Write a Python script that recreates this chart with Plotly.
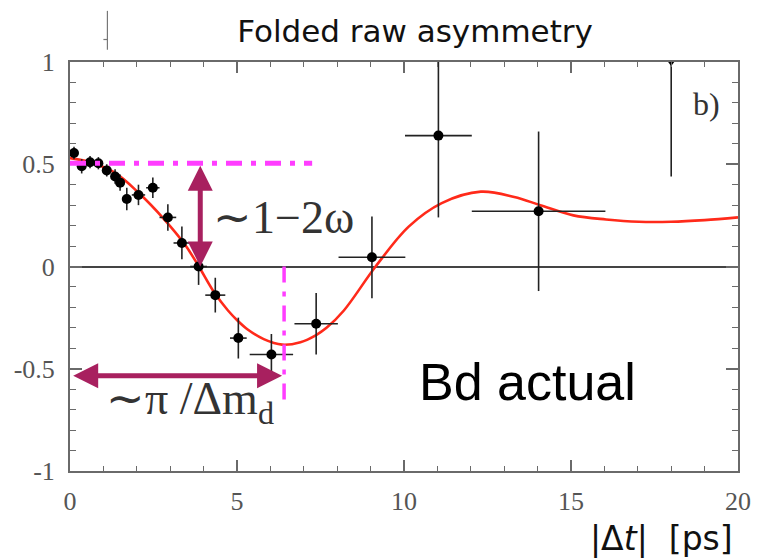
import plotly.graph_objects as go

# ---- data ----
pt_x = [0.12, 0.35, 0.6, 0.85, 1.1, 1.35, 1.5, 1.7, 2.05, 2.48, 2.93, 3.35, 3.85,
        4.35, 5.04, 6.03, 7.37, 9.04, 11.03, 14.03, 18.0]
pt_y = [0.555, 0.49, 0.51, 0.505, 0.47, 0.44, 0.41, 0.33, 0.35, 0.385, 0.24, 0.115, 0.0,
        -0.14, -0.35, -0.43, -0.28, 0.045, 0.64, 0.27, 1.3]
pt_ey = [0.03, 0.035, 0.03, 0.03, 0.03, 0.035, 0.04, 0.055, 0.05, 0.05, 0.065, 0.08, 0.09,
         0.085, 0.1, 0.1, 0.15, 0.2, 0.4, 0.39, 0.86]
pt_ex = [0.12, 0.12, 0.12, 0.12, 0.12, 0.12, 0.12, 0.12, 0.2, 0.2, 0.25, 0.25, 0.25,
         0.3, 0.25, 0.65, 0.65, 1.0, 1.0, 2.0, 2.0]

overflow_x = [18.0]
overflow_y = [1.0]

fit_x = [0.0, 0.6, 1.33, 2.07, 2.84, 3.45, 3.84, 4.33, 4.73, 5.02, 5.32, 5.8, 6.35, 6.9,
         7.37, 7.68, 8.2, 9.15, 10.14, 11.13, 12.3, 13.3, 14.08, 15.07, 16.05, 17.03,
         18.0, 19.0, 20.0]
fit_y = [0.53, 0.51, 0.46, 0.358, 0.227, 0.105, 0.005, -0.13, -0.215, -0.265, -0.308, -0.355,
         -0.382, -0.37, -0.335, -0.3, -0.215, 0.0, 0.195, 0.31, 0.366, 0.34, 0.30, 0.25,
         0.23, 0.219, 0.219, 0.227, 0.24]

x_ticks = [0, 5, 10, 15, 20]
x_ticklabels = ["0", "5", "10", "15", "20"]
y_ticks = [-1, -0.5, 0, 0.5, 1]
y_ticklabels = ["-1", "-0.5", "0", "0.5", "1"]

# guide lines / arrows (annotation geometry)
hguide = dict(x0=0.0, x1=7.25, y=0.505)
vguide = dict(x=6.41, y0=0.0, y1=-0.69)
varrow = dict(x=3.9, y0=0.5, y1=0.0)
harrow = dict(y=-0.534, x0=0.05, x1=6.35)

MAGENTA = "#FF3DFF"
ARROW = "#A8205F"
AXC = "#6a6a6a"
SERIF = "Liberation Serif, Times New Roman, serif"

fig = go.Figure()

fig.add_trace(go.Scatter(
    x=fit_x, y=fit_y, mode="lines",
    line=dict(color="#FF2A1A", width=2.6, shape="spline", smoothing=1.0),
    showlegend=False, hoverinfo="skip"))

fig.add_trace(go.Scatter(
    x=pt_x, y=pt_y, mode="markers",
    marker=dict(color="black", size=10, symbol="circle"),
    error_y=dict(type="data", array=pt_ey, color="#222", thickness=1.6, width=0),
    error_x=dict(type="data", array=pt_ex, color="#222", thickness=1.6, width=0),
    showlegend=False))

fig.add_trace(go.Scatter(
    x=overflow_x, y=overflow_y, mode="markers",
    marker=dict(color="black", size=8, symbol="triangle-down"),
    cliponaxis=False, showlegend=False))

dash = "16px,9px,5px,9px"
shapes = [
    dict(type="line", xref="x", yref="y", x0=hguide["x0"], x1=hguide["x1"],
         y0=hguide["y"], y1=hguide["y"], line=dict(color=MAGENTA, width=5, dash=dash)),
    dict(type="line", xref="x", yref="y", x0=vguide["x"], x1=vguide["x"],
         y0=vguide["y0"], y1=vguide["y1"], line=dict(color=MAGENTA, width=3.5, dash=dash)),
    # small stray mark at top-left of the original image
    dict(type="line", xref="paper", yref="paper", x0=0.056, x1=0.056, y0=1.03, y1=1.125,
         line=dict(color="#777", width=1.2)),
    dict(type="line", xref="paper", yref="paper", x0=0.050, x1=0.056, y0=1.055, y1=1.055,
         line=dict(color="#777", width=1.2)),
]

annotations = [
    dict(x=varrow["x"], y=varrow["y1"], ax=varrow["x"], ay=varrow["y0"], axref="x", ayref="y",
         xref="x", yref="y", text="", showarrow=True, arrowhead=2, arrowside="end+start",
         arrowwidth=5, arrowsize=1.0, arrowcolor=ARROW, standoff=0, startstandoff=0),
    dict(x=harrow["x1"], y=harrow["y"], ax=harrow["x0"], ay=harrow["y"], axref="x", ayref="y",
         xref="x", yref="y", text="", showarrow=True, arrowhead=2, arrowside="end+start",
         arrowwidth=5, arrowsize=1.0, arrowcolor=ARROW, standoff=0, startstandoff=0),
    dict(x=6.4, y=0.24, xref="x", yref="y", text="∼1−2ω", showarrow=False,
         font=dict(family=SERIF, size=46, color="#333")),
    dict(x=3.6, y=-0.665, xref="x", yref="y", text="∼π /Δm<sub>d</sub>", showarrow=False,
         font=dict(family=SERIF, size=46, color="#333")),
    dict(x=13.7, y=-0.565, xref="x", yref="y", text="Bd actual", showarrow=False,
         font=dict(family="Liberation Sans", size=52, color="black")),
    dict(x=19.05, y=0.795, xref="x", yref="y", text="b)", showarrow=False,
         font=dict(family=SERIF, size=32, color="#333")),
    dict(x=0.996, y=-0.164, xref="paper", yref="paper", xanchor="right", yanchor="middle",
         text="|Δ<i>t</i>|  [ps]", showarrow=False,
         font=dict(family="DejaVu Sans", size=33, color="#111")),
]

tickfont = dict(family=SERIF, size=26, color="#555")

fig.update_layout(
    width=763, height=560,
    margin=dict(l=70, r=16, t=62, b=89),
    paper_bgcolor="white", plot_bgcolor="white",
    title=dict(text="Folded raw asymmetry", x=0.544, y=0.945, xanchor="center", yanchor="middle",
               font=dict(family="DejaVu Sans", size=31, color="#111")),
    shapes=shapes, annotations=annotations,
    xaxis=dict(range=[0, 20], tickmode="array", tickvals=x_ticks, ticktext=x_ticklabels,
               ticks="inside", ticklen=11, tickwidth=1.5, tickcolor=AXC, showline=True,
               linecolor=AXC, linewidth=2, mirror="allticks", showgrid=False, zeroline=False,
               ticklabelstandoff=6, tickfont=tickfont,
               minor=dict(dtick=1, ticks="inside", ticklen=5, tickwidth=1.3, tickcolor=AXC,
                          showgrid=False)),
    yaxis=dict(range=[-1, 1], tickmode="array", tickvals=y_ticks, ticktext=y_ticklabels,
               ticks="inside", ticklen=12, tickwidth=1.5, tickcolor=AXC, showline=True,
               linecolor=AXC, linewidth=2, mirror="allticks", showgrid=False, zeroline=True,
               zerolinecolor="#444", zerolinewidth=2, ticklabelstandoff=8, tickfont=tickfont,
               minor=dict(dtick=0.1, ticks="inside", ticklen=6, tickwidth=1.3, tickcolor=AXC,
                          showgrid=False)),
)

fig.write_html("out.html")
